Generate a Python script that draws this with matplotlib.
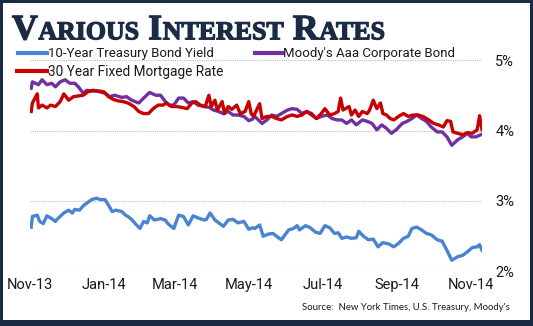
import matplotlib
matplotlib.use("Agg")
import matplotlib.pyplot as plt
import matplotlib.dates as mdates
import matplotlib.patheffects as pe
import numpy as np
from matplotlib.lines import Line2D
from matplotlib.patches import Rectangle

# ---------------- data ----------------
START_DATE = "2013-11-01"

TREASURY_DAYS = [1, 2, 6, 8, 11, 14, 18, 21, 23, 28, 32, 35, 37, 41, 44, 47, 51, 55, 58, 62,
                 65, 68, 71, 76, 79, 81, 84, 87, 91, 94, 97, 99, 103, 108, 112, 114, 119, 123,
                 127, 131, 135, 139, 144, 146, 149, 153, 157, 160, 164, 168, 172, 177, 181,
                 184, 186, 190, 193, 197, 201, 204, 208, 211, 214, 218, 221, 223, 228, 232,
                 236, 240, 244, 248, 252, 255, 258, 262, 266, 270, 272, 276, 280, 284, 288,
                 292, 297, 301, 305, 309, 313, 316, 320, 324, 328, 332, 337, 341, 345, 349,
                 354, 358, 362, 366, 370, 372, 374]
TREASURY_VALS = [2.63, 2.78, 2.80, 2.71, 2.68, 2.79, 2.75, 2.71, 2.75, 2.83, 2.87, 2.83, 2.88,
                 2.87, 2.93, 2.97, 3.02, 3.04, 3.02, 3.02, 2.94, 2.85, 2.87, 2.85, 2.80, 2.78,
                 2.74, 2.68, 2.61, 2.71, 2.69, 2.79, 2.73, 2.75, 2.73, 2.68, 2.61, 2.80, 2.78,
                 2.66, 2.79, 2.76, 2.73, 2.74, 2.83, 2.73, 2.68, 2.64, 2.73, 2.74, 2.69, 2.71,
                 2.60, 2.62, 2.61, 2.66, 2.50, 2.53, 2.54, 2.50, 2.45, 2.52, 2.59, 2.61, 2.65,
                 2.59, 2.65, 2.62, 2.56, 2.54, 2.65, 2.62, 2.54, 2.55, 2.47, 2.49, 2.47, 2.48,
                 2.57, 2.50, 2.45, 2.46, 2.35, 2.41, 2.39, 2.35, 2.40, 2.47, 2.50, 2.61, 2.63,
                 2.59, 2.54, 2.52, 2.45, 2.43, 2.30, 2.16, 2.21, 2.23, 2.28, 2.34, 2.35, 2.38,
                 2.30]

MOODYS_DAYS = [1, 2, 7, 10, 14, 18, 21, 25, 29, 33, 37, 40, 44, 47, 51, 55, 62, 66, 70, 76,
               80, 84, 90, 94, 99, 104, 108, 112, 115, 119, 123, 127, 131, 135, 139, 144, 148,
               152, 156, 160, 164, 168, 172, 177, 181, 184, 186, 192, 196, 200, 204, 208, 213,
               217, 221, 225, 229, 233, 237, 241, 246, 250, 254, 258, 262, 266, 270, 275, 279,
               283, 287, 291, 295, 299, 303, 308, 312, 316, 320, 324, 328, 332, 337, 341, 345,
               349, 354, 358, 362, 365, 369, 373]
MOODYS_VALS = [4.60, 4.69, 4.65, 4.72, 4.65, 4.67, 4.62, 4.69, 4.72, 4.67, 4.67, 4.62, 4.53,
               4.57, 4.56, 4.56, 4.53, 4.48, 4.50, 4.47, 4.48, 4.43, 4.39, 4.46, 4.54, 4.50,
               4.50, 4.41, 4.36, 4.36, 4.46, 4.46, 4.39, 4.41, 4.36, 4.34, 4.33, 4.29, 4.27,
               4.24, 4.27, 4.22, 4.22, 4.20, 4.14, 4.16, 4.20, 4.10, 4.15, 4.22, 4.20, 4.24,
               4.29, 4.31, 4.30, 4.24, 4.27, 4.24, 4.17, 4.20, 4.22, 4.17, 4.15, 4.15, 4.10,
               4.15, 4.08, 4.15, 4.13, 4.10, 4.01, 4.08, 4.03, 3.96, 4.01, 4.10, 4.13, 4.17,
               4.22, 4.17, 4.13, 4.05, 3.98, 3.98, 3.91, 3.79, 3.87, 3.91, 3.96, 3.91, 3.91,
               3.94]

MORTGAGE_DAYS = [1, 2, 6, 7, 10, 14, 17, 21, 25, 28, 32, 36, 40, 44, 48, 52, 57, 61, 65, 69,
                 73, 77, 81, 86, 90, 94, 98, 102, 106, 110, 113, 117, 121, 125, 130, 134, 137,
                 141, 145, 148, 150, 153, 155, 159, 161, 164, 167, 171, 174, 178, 181, 183,
                 185, 190, 192, 196, 200, 204, 208, 213, 217, 221, 225, 229, 233, 237, 241,
                 244, 248, 252, 255, 257, 259, 264, 266, 269, 272, 275, 279, 281, 284, 287,
                 290, 292, 295, 298, 301, 305, 309, 313, 317, 321, 325, 330, 334, 338, 342,
                 345, 348, 350, 354, 358, 362, 366, 370, 372, 374]
MORTGAGE_VALS = [4.27, 4.39, 4.52, 4.32, 4.36, 4.32, 4.36, 4.34, 4.41, 4.52, 4.43, 4.48, 4.49,
                 4.50, 4.55, 4.57, 4.56, 4.55, 4.48, 4.44, 4.42, 4.41, 4.39, 4.34, 4.27, 4.24,
                 4.24, 4.31, 4.36, 4.36, 4.39, 4.34, 4.34, 4.33, 4.31, 4.39, 4.41, 4.36, 4.34,
                 4.50, 4.34, 4.43, 4.29, 4.41, 4.24, 4.34, 4.30, 4.36, 4.24, 4.27, 4.41, 4.24,
                 4.20, 4.38, 4.17, 4.20, 4.20, 4.17, 4.15, 4.20, 4.22, 4.20, 4.22, 4.27, 4.22,
                 4.17, 4.24, 4.31, 4.22, 4.24, 4.27, 4.46, 4.29, 4.34, 4.22, 4.29, 4.20, 4.27,
                 4.24, 4.29, 4.43, 4.31, 4.39, 4.24, 4.22, 4.17, 4.15, 4.20, 4.24, 4.20, 4.22,
                 4.22, 4.20, 4.15, 4.10, 4.08, 4.05, 4.14, 4.13, 3.98, 3.96, 3.94, 3.97, 3.96,
                 4.01, 4.21, 4.01]

SERIES_NAMES = ["10-Year Treasury Bond Yield", "Moody's Aaa Corporate Bond",
                "30 Year Fixed Mortgage Rate"]
Y_TICKS = [2, 3, 4, 5]
TITLE_PARTS = [("V", True), ("ARIOUS", False), (None, None), ("I", True), ("NTEREST", False),
               (None, None), ("R", True), ("ATES", False)]
SOURCE_TEXT = "Source:  New York Times, U.S. Treasury, Moody's"

# ---------------- styling ----------------
W, H = 533, 326
NAVY = "#1b2a45"
BLUE = "#4a83d2"
PURPLE = "#7031a0"
RED = "#c80000"
GRID = "#bdbdbd"
TEXT = "#1a1a1a"

fig = plt.figure(figsize=(W / 100, H / 100), dpi=100)
fig.patch.set_facecolor(NAVY)
fig.add_artist(Rectangle((3 / W, 1 - 320 / H), 527 / W, 317 / H, transform=fig.transFigure,
                         facecolor="white", edgecolor="none", zorder=-10))


def fx(x):
    return x / W


def fy(y):
    return 1 - y / H


ax = fig.add_axes([fx(30), fy(271.5), 452 / W, 211.5 / H])
ax.patch.set_visible(False)

start = np.datetime64(START_DATE)


def to_dates(days):
    return start + np.array(days, dtype="timedelta64[D]")


ax.plot(to_dates(TREASURY_DAYS), TREASURY_VALS, color=BLUE, lw=2.4, solid_joinstyle="round")
ax.plot(to_dates(MOODYS_DAYS), MOODYS_VALS, color=PURPLE, lw=2.4, solid_joinstyle="round")
ax.plot(to_dates(MORTGAGE_DAYS), MORTGAGE_VALS, color=RED, lw=2.4, solid_joinstyle="round")

ax.set_xlim(start, start + np.timedelta64(374, "D"))
ax.set_ylim(2, 5)
ax.set_yticks(Y_TICKS)
ax.yaxis.set_major_formatter(matplotlib.ticker.FuncFormatter(lambda v, p: f"{v:.0f}%"))
ax.yaxis.tick_right()
ax.xaxis.set_major_locator(mdates.MonthLocator(bymonth=[1, 3, 5, 7, 9, 11]))
ax.xaxis.set_major_formatter(mdates.DateFormatter("%b-%y"))
ax.tick_params(axis="both", length=0, labelcolor=TEXT)
ax.tick_params(axis="y", pad=9.5)
ax.tick_params(axis="x", pad=5)
for lab in ax.get_xticklabels() + ax.get_yticklabels():
    lab.set_fontfamily("Roboto")
    lab.set_fontsize(10.5)
ax.grid(axis="y", color=GRID, lw=0.8, linestyle=(0, (1, 1)))
ax.grid(axis="x", visible=False)
for s in ax.spines.values():
    s.set_visible(False)

renderer = fig.canvas.get_renderer()


def fit_text(x, y, s, target_w, **kw):
    t = fig.text(x, y, s, fontsize=10, **kw)
    w = t.get_window_extent(renderer).width
    t.set_fontsize(10 * target_w / w)
    return t


# legend
legend_items = [
    (SERIES_NAMES[0], BLUE, 18, 47, 52.5, 166),
    (SERIES_NAMES[1], PURPLE, 255, 282, 52.5, 172),
    (SERIES_NAMES[2], RED, 17, 47, 71.5, 174),
]
for name, col, x0, x1, yy, tw in legend_items:
    fig.add_artist(Line2D([fx(x0), fx(x1)], [fy(yy), fy(yy)], color=col, lw=3.0,
                          transform=fig.transFigure))
    fit_text(fx(x1 + 1), fy(yy + 0.5), name, tw, family="Roboto", color=TEXT,
             va="center", ha="left")

# source
fit_text(fx(510), fy(308), SOURCE_TEXT, 208, family="Lato", color=TEXT,
         va="center", ha="right")


# title in small caps
def draw_title(big, small, gap):
    arts = []
    x = 12.0
    for txt, is_big in TITLE_PARTS:
        if txt is None:
            x += gap
            continue
        t = fig.text(fx(x), fy(39.3), txt, fontsize=big if is_big else small,
                     fontweight="bold", family="Liberation Serif", color=NAVY,
                     va="baseline", ha="left")
        x += t.get_window_extent(renderer).width + 0.6
        arts.append(t)
    return arts, x


arts, xend = draw_title(26.4, 19.1, 8.5)
scale = (385 - 12 - 17) / (xend - 12 - 17)
for a in arts:
    a.remove()
arts, _ = draw_title(26.4 * scale, 19.1 * scale, 8.5)
for a in arts:
    a.set_path_effects([pe.withStroke(linewidth=0.9, foreground=NAVY)])

fig.savefig("out.png", dpi=100, facecolor=fig.get_facecolor())
